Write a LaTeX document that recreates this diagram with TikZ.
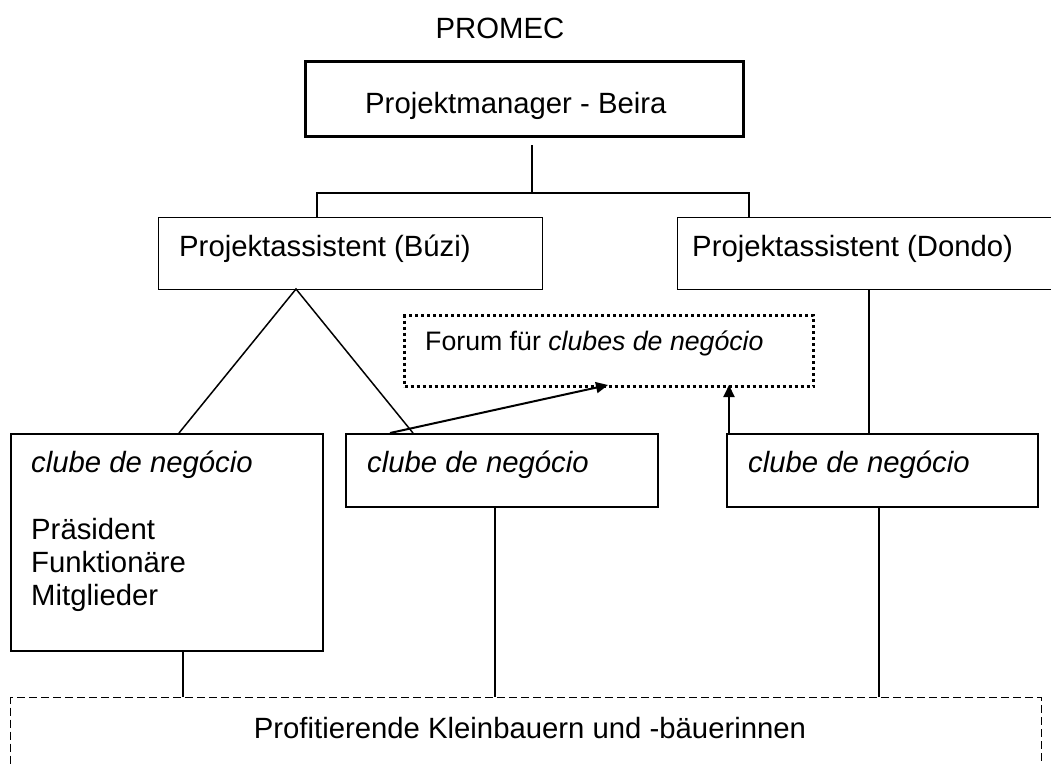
\documentclass[tikz,border=0pt]{standalone}
\usepackage{fontspec}
\setmainfont{Liberation Sans}
\usetikzlibrary{arrows.meta}
\tikzset{
  boxthin/.style={draw, line width=1.3pt, inner sep=0pt, anchor=north west},
  boxmid/.style={draw, line width=2pt, inner sep=0pt, anchor=north west},
  boxthick/.style={draw, line width=3pt, inner sep=0pt, anchor=north west},
  forumbox/.style={draw, line width=3pt, dash pattern=on 3pt off 3pt, inner sep=0pt, anchor=north west},
  dashbox/.style={draw, line width=1.3pt, dash pattern=on 8pt off 4pt, inner sep=0pt, anchor=north west},
  lbl/.style={inner sep=0pt, anchor=base west, font=\fontsize{29.3}{35}\selectfont},
  lblsmall/.style={inner sep=0pt, anchor=base west, font=\fontsize{26.7}{32}\selectfont},
  conn/.style={line width=1.5pt},
  arr/.style={line width=2pt, -{Triangle[length=12pt,width=11pt]}}
}
\begin{document}
\begin{tikzpicture}[x=1pt,y=-1pt]
\useasboundingbox (0,0) rectangle (1051,764);
\clip (0,0) rectangle (1051,764);
\fill[white] (0,0) rectangle (1051,764);

% title
\node[lbl, anchor=base] (promec) at (500,38) {PROMEC};

% manager
\node[boxthick, minimum width=438pt, minimum height=75pt] (mgr) at (304,60) {};
\node[lbl] (mgrt) at (365,113) {Projektmanager - Beira};

% assistants
\node[boxthin, minimum width=384pt, minimum height=72pt] (buzi) at (158,217) {};
\node[lbl] (buzit) at (179,256) {Projektassistent (Búzi)};
\node[boxthin, minimum width=383pt, minimum height=72pt] (dondo) at (677,217) {};
\node[lbl] (dondot) at (692,256) {Projektassistent (Dondo)};

% forum
\node[forumbox, minimum width=409pt, minimum height=71pt] (forum) at (403,314) {};
\node[lblsmall] (forumt) at (425,350) {Forum für \textit{clubes de negócio}};

% clubs
\node[boxmid, minimum width=312pt, minimum height=217pt] (club1) at (10,433) {};
\node[lbl] (club1t) at (31,472) {\textit{clube de negócio}};
\node[lbl] (club1a) at (31,539) {Präsident};
\node[lbl] (club1b) at (31,572) {Funktionäre};
\node[lbl] (club1c) at (31,605) {Mitglieder};
\node[boxmid, minimum width=312pt, minimum height=73pt] (club2) at (345,433) {};
\node[lbl] (club2t) at (367,472) {\textit{clube de negócio}};
\node[boxmid, minimum width=311pt, minimum height=73pt] (club3) at (726,433) {};
\node[lbl] (club3t) at (748,472) {\textit{clube de negócio}};

% beneficiaries
\node[dashbox, minimum width=1031pt, minimum height=100pt] (bauern) at (10,697) {};
\node[lbl, anchor=base] (bauernt) at (530,738) {Profitierende Kleinbauern und -bäuerinnen};

% connector coordinates
\coordinate (m0) at (532,145);
\coordinate (m1) at (532,193);
\coordinate (tb) at (317,217);
\coordinate (td) at (749,217);
\coordinate (apex) at (296,289);
\coordinate (c1top) at (179,433);
\coordinate (c2top) at (413,433);
\coordinate (a1s) at (390,433);
\coordinate (a1e) at (608,385);
\coordinate (a2s) at (729,433);
\coordinate (a2e) at (729,385);
\coordinate (dbot) at (869,289);
\coordinate (c3top) at (869,433);

\draw[conn] (m0) -- (m1);
\draw[conn] (tb) |- (m1) -| (td);
\draw[conn] (c1top) -- (apex) -- (c2top);
\draw[conn] (dbot) -- (c3top);
\draw[arr] (a1s) -- (a1e);
\draw[arr] (a2s) -- (a2e);

\draw[conn] (club1.south -| 183,0) -- (bauern.north -| 183,0);
\draw[conn] (club2.south -| 495,0) -- (bauern.north -| 495,0);
\draw[conn] (club3.south -| 879,0) -- (bauern.north -| 879,0);
\end{tikzpicture}
\end{document}
